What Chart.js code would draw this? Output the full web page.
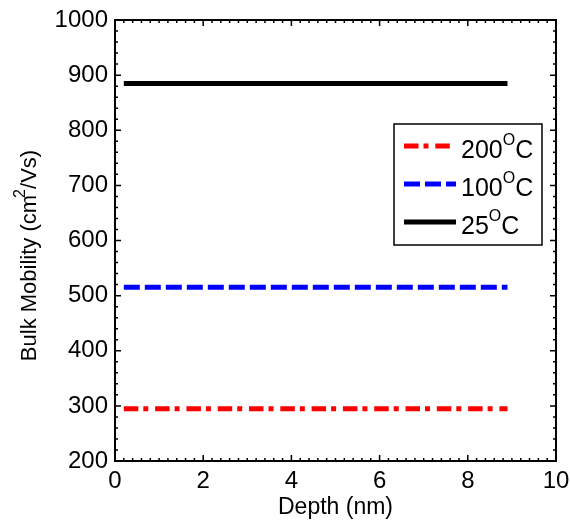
<!DOCTYPE html>
<html>
<head>
<meta charset="utf-8">
<script src="https://cdn.jsdelivr.net/npm/chart.js@4"></script>
<style>
	body { margin: 0; background: #fff; }
	#wrap { width: 570px; height: 525px; }
</style>
</head>
<body>
<div id="wrap"><canvas id="myChart" width="570" height="525"></canvas></div>
<script>
const fontFamily = "'Liberation Sans', Arial, sans-serif";

// data
const depth = [0.2, 8.9];
const mobility200 = [295, 295];
const mobility100 = [515, 515];
const mobility25 = [885, 885];
const seriesLabels = ["200", "100", "25"];
const xTicks = [0, 2, 4, 6, 8, 10];
const yTicks = [200, 300, 400, 500, 600, 700, 800, 900, 1000];

function points(ys) {
	var pts = [];
	for (var i = 0; i < depth.length; i++) {
		pts.push({ x: depth[i], y: ys[i] });
	}
	return pts;
}

// inward ticks, frame, axis titles and the legend box
var decorations = {
	id: "decorations",
	afterDraw: function (chart) {
		var ctx = chart.ctx;
		var a = chart.chartArea;
		var xs = chart.scales.x;
		var ys = chart.scales.y;
		ctx.save();
		ctx.strokeStyle = "#000";
		ctx.lineWidth = 1.5;
		ctx.beginPath();
		for (var i = 0; i <= 50; i++) {
			var v = i * 0.2;
			var px = xs.getPixelForValue(v);
			var len = i % 10 == 0 ? 6 : 3;
			ctx.moveTo(px, a.bottom);
			ctx.lineTo(px, a.bottom - len);
			ctx.moveTo(px, a.top);
			ctx.lineTo(px, a.top + len);
		}
		for (var j = 0; j <= 40; j++) {
			var val = 200 + j * 20;
			var py = ys.getPixelForValue(val);
			var l = j % 5 == 0 ? 6 : 3;
			ctx.moveTo(a.left, py);
			ctx.lineTo(a.left + l, py);
			ctx.moveTo(a.right, py);
			ctx.lineTo(a.right - l, py);
		}
		ctx.stroke();

		ctx.lineWidth = 2;
		ctx.strokeRect(a.left, a.top, a.right - a.left, a.bottom - a.top);

		// x title
		ctx.fillStyle = "#000";
		ctx.font = "23px " + fontFamily;
		ctx.textAlign = "center";
		ctx.textBaseline = "alphabetic";
		ctx.fillText("Depth (nm)", (a.left + a.right) / 2, 514);

		// y title with superscript
		ctx.save();
		ctx.translate(36, 254);
		ctx.rotate(-Math.PI / 2);
		ctx.textAlign = "left";
		var p1 = "Bulk Mobility (cm";
		var p2 = "2";
		var p3 = "/Vs)";
		ctx.font = "22px " + fontFamily;
		var w1 = ctx.measureText(p1).width;
		var w3 = ctx.measureText(p3).width;
		ctx.font = "16px " + fontFamily;
		var w2 = ctx.measureText(p2).width;
		var x0 = -(w1 + w2 + w3) / 2;
		ctx.font = "22px " + fontFamily;
		ctx.fillText(p1, x0, 0);
		ctx.font = "16px " + fontFamily;
		ctx.fillText(p2, x0 + w1 - 3, -11);
		ctx.font = "22px " + fontFamily;
		ctx.fillText(p3, x0 + w1 + w2 - 3, 0);
		ctx.restore();

		// legend
		ctx.lineWidth = 1.5;
		ctx.strokeRect(394, 124, 148, 121);
		var rows = [146, 184, 222];
		var ds = chart.data.datasets;
		for (var k = 0; k < ds.length; k++) {
			var ry = rows[k];
			ctx.beginPath();
			ctx.strokeStyle = ds[k].borderColor;
			ctx.lineWidth = ds[k].borderWidth;
			ctx.setLineDash(ds[k].borderDash || []);
			ctx.moveTo(404, ry);
			ctx.lineTo(k == 0 ? 451 : 456, ry);
			ctx.stroke();
			ctx.setLineDash([]);
			ctx.textAlign = "left";
			ctx.font = "25px " + fontFamily;
			var tx = 461;
			ctx.fillText(seriesLabels[k], tx, ry + 12);
			tx += ctx.measureText(seriesLabels[k]).width;
			ctx.font = "16px " + fontFamily;
			ctx.fillText("O", tx, ry - 1);
			tx += ctx.measureText("O").width;
			ctx.font = "25px " + fontFamily;
			ctx.fillText("C", tx, ry + 12);
		}
		ctx.restore();
	},
};

window.onload = function () {
	var ctx = document.getElementById("myChart").getContext("2d");
	myChart = new Chart(ctx, {
		type: "line",
		data: {
			datasets: [
				{
					label: seriesLabels[0],
					data: points(mobility200),
					borderColor: "#ff0000",
					borderWidth: 5,
					borderDash: [14.5, 5, 5, 6.8],
					borderCapStyle: "butt",
					pointRadius: 0,
				},
				{
					label: seriesLabels[1],
					data: points(mobility100),
					borderColor: "#0000ff",
					borderWidth: 5,
					borderDash: [16, 5],
					borderCapStyle: "butt",
					pointRadius: 0,
				},
				{
					label: seriesLabels[2],
					data: points(mobility25),
					borderColor: "#000000",
					borderWidth: 5,
					borderCapStyle: "butt",
					pointRadius: 0,
				},
			],
		},
		options: {
			responsive: false,
			animation: false,
			layout: { padding: { left: 0, top: 20, right: 14, bottom: 0 } },
			plugins: {
				legend: { display: false },
				tooltip: { enabled: false },
			},
			scales: {
				x: {
					type: "linear",
					min: 0,
					max: 10,
					afterBuildTicks: function (scale) {
						scale.ticks = xTicks.map(function (v) { return { value: v }; });
					},
					afterFit: function (scale) {
						scale.height = 64;
						scale.paddingLeft = 0;
						scale.paddingRight = 0;
					},
					grid: { drawOnChartArea: false, drawTicks: false },
					border: { display: false },
					ticks: {
						color: "#000",
						padding: 6,
						maxRotation: 0,
						font: { family: fontFamily, size: 24 },
						callback: function (value) { return String(value); },
					},
				},
				y: {
					type: "linear",
					min: 200,
					max: 1000,
					afterBuildTicks: function (scale) {
						scale.ticks = yTicks.map(function (v) { return { value: v }; });
					},
					afterFit: function (scale) {
						scale.width = 115;
						scale.paddingTop = 0;
						scale.paddingBottom = 0;
					},
					grid: { drawOnChartArea: false, drawTicks: false },
					border: { display: false },
					ticks: {
						color: "#000",
						padding: 7,
						font: { family: fontFamily, size: 24 },
						callback: function (value) { return String(value); },
					},
				},
			},
		},
		plugins: [decorations],
	});
};
</script>
</body>
</html>
